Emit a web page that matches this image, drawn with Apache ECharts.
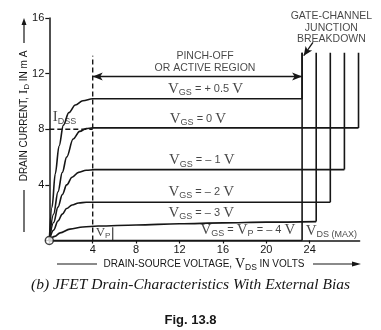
<!DOCTYPE html>
<html>
<head>
<meta charset="utf-8">
<script src="https://cdn.jsdelivr.net/npm/echarts@6/dist/echarts.min.js"></script>
<style>
html,body{margin:0;padding:0;background:#fff;}
#c{width:381px;height:330px;}
</style>
</head>
<body>
<div id="c"></div>
<script>
// ---------- data ----------
const xTicks = [4, 8, 12, 16, 20, 24];
const yTicks = [4, 8, 12, 16];
const vgsLabels = ['+ 0.5', '0', '– 1', '– 2', '– 3', '– 4'];
// drain characteristic curves [VDS, ID]
const curvePlus05 = [[0,0],[0.25,2.4],[0.55,4.8],[0.9,6.8],[1.3,8.3],[1.8,9.2],[2.4,9.75],[3.1,10.05],[4.0,10.2],[23.3,10.2]];
const curve0      = [[0,0],[0.4,1.9],[0.8,3.5],[1.2,4.9],[1.6,6.0],[2.2,7.3],[2.8,7.85],[3.4,8.05],[4.0,8.1],[28.5,8.1]];
const curveM1     = [[0,0],[0.4,1.3],[0.8,2.4],[1.2,3.3],[1.6,4.0],[2.1,4.55],[2.7,4.9],[3.4,5.05],[4.2,5.1],[27.2,5.1]];
const curveM2     = [[0,0],[0.4,0.75],[0.8,1.4],[1.2,1.9],[1.6,2.3],[2.1,2.55],[2.7,2.7],[3.4,2.75],[25.9,2.75]];
const curveM3     = [[0,0],[0.5,0.3],[1.0,0.55],[1.9,0.82],[3.1,0.97],[4.5,1.04],[8,1.12],[12,1.2],[16,1.27],[20,1.32],[24.6,1.36]];
const curveM4     = [[0,0],[23.3,0]];
const curves = [curvePlus05, curve0, curveM1, curveM2, curveM3, curveM4];
const breakdownTop = 13.5;      // top of the breakdown verticals (mA)
const pinchOffV = 4;            // V_P magnitude (dashed vertical)
const pinchDashTop = 13.3;
const idss = 8;
const activeArrowY = 11.8;
const activeArrowEnd = 23.3;
// label anchor positions [VDS, ID]
const vgsLabelPos = [[14.4,10.9],[13.7,8.74],[14.05,5.79],[14.0,3.49],[14.0,1.98],[18.3,0.76]];

// ---------- chart ----------
const ink = '#161616';
const lw = 1.6;
const chart = echarts.init(document.getElementById('c'), null, {renderer:'canvas'});

const rich = {
  v: {fontFamily:'Liberation Serif', fontSize:15, color:ink},
  s: {fontFamily:'Liberation Sans', fontSize:9, color:ink, padding:[8,0,0,0]},
  t: {fontFamily:'Liberation Sans', fontSize:11, color:ink}
};

const series = [];
curves.forEach((c, i) => {
  series.push({type:'line', data:c, smooth:0.35, smoothMonotone:'x', symbol:'none',
    lineStyle:{color:ink, width:lw}, z:3, animation:false});
  const last = c[c.length-1];
  series.push({type:'line', data:[last, [last[0], breakdownTop]], symbol:'none',
    lineStyle:{color:ink, width:lw}, z:3, animation:false});
});
// dashed pinch-off line and IDSS line
series.push({type:'line', data:[[pinchOffV,0],[pinchOffV,pinchDashTop]], symbol:'none',
  lineStyle:{color:ink, width:1.4, type:[5,3]}, animation:false});
series.push({type:'line', data:[[0,idss],[pinchOffV,idss]], symbol:'none',
  lineStyle:{color:ink, width:1.4, type:[5,3]}, animation:false});
// V_P small box sides
series.push({type:'line', data:[[5.85,0],[5.85,0.95]], symbol:'none', lineStyle:{color:ink,width:1}, animation:false});
// arrows
series.push({type:'line', data:[], animation:false,
  markLine:{silent:true, animation:false, symbol:['arrow','arrow'], symbolSize:[6,10],
    label:{show:false}, lineStyle:{color:ink, width:1.3, type:'solid'},
    data:[[{coord:[pinchOffV, activeArrowY]},{coord:[activeArrowEnd, activeArrowY]}]]}});
series.push({type:'line', data:[], animation:false,
  markLine:{silent:true, animation:false, symbol:['none','arrow'], symbolSize:[6,9],
    label:{show:false}, lineStyle:{color:ink, width:1.3, type:'solid'},
    data:[[{coord:[24.3,14.25]},{coord:[23.45,13.3]}]]}});
// origin circle
series.push({type:'scatter', data:[[0,0]], symbol:'circle', symbolSize:8,
  itemStyle:{color:'#fff', borderColor:ink, borderWidth:1.5}, z:10, animation:false});
// labels
const labelData = vgsLabels.map((g, i) => {
  let txt;
  if (i === 5) txt = '{v|V}{s|GS}{t| = }{v|V}{s|P}{t| = – 4 }{v|V}';
  else txt = '{v|V}{s|GS}{t| = ' + g + ' }{v|V}';
  return {value: vgsLabelPos[i], label:{formatter: txt}};
});
labelData.push({value:[14.35,12.85], label:{formatter:'{t|PINCH-OFF}\n{t|OR ACTIVE REGION}', lineHeight:12,
  rich:{t:{fontFamily:'Liberation Sans', fontSize:10.5, color:ink, lineHeight:12}}}});
labelData.push({value:[26.0,15.3], label:{formatter:'{t|GATE-CHANNEL}\n{t|JUNCTION}\n{t|BREAKDOWN}',
  rich:{t:{fontFamily:'Liberation Sans', fontSize:10.5, color:ink, lineHeight:11.5}}}});
labelData.push({value:[1.4,8.85], label:{formatter:'{v|I}{s|DSS}'}});
labelData.push({value:[26.0,0.7], label:{formatter:'{v|V}{s|DS (MAX)}'}});
labelData.push({value:[4.95,0.55], label:{formatter:'{v|V}{s|P}', rich:{v:{fontFamily:'Liberation Serif', fontSize:13, color:ink}, s:{fontFamily:'Liberation Sans', fontSize:8, color:ink, padding:[6,0,0,0]}}}});
series.push({type:'scatter', data:labelData, symbolSize:0, animation:false, z:6,
  label:{show:true, position:'inside', rich:rich, color:ink}});

const option = {
  animation:false,
  backgroundColor:'#fff',
  grid:[
    {left:49.3, top:18.1, width:310.3, height:222.4},
    {left:49.3, top:18.1, width:260.4, height:222.4}
  ],
  xAxis:[
    {gridIndex:0, type:'value', min:0, max:28.6, axisLine:{lineStyle:{color:ink, width:1.5}},
      axisTick:{show:false}, axisLabel:{show:false}, splitLine:{show:false}},
    {gridIndex:1, type:'value', min:0, max:24, interval:4, axisLine:{show:false},
      axisTick:{show:true, length:3, lineStyle:{color:ink, width:1.2}},
      axisLabel:{margin:4, fontSize:11, fontFamily:'Liberation Sans', color:ink,
        formatter:v => xTicks.indexOf(v) >= 0 ? String(v) : ''},
      splitLine:{show:false}}
  ],
  yAxis:[
    {gridIndex:0, type:'value', min:0, max:16, interval:4, axisLine:{show:true, lineStyle:{color:ink, width:1.5}},
      axisTick:{show:true, length:4, lineStyle:{color:ink, width:1.2}},
      axisLabel:{margin:5, fontSize:11, fontFamily:'Liberation Sans', color:ink,
        formatter:v => yTicks.indexOf(v) >= 0 ? String(v) : ''},
      splitLine:{show:false}},
    {gridIndex:1, type:'value', min:0, max:16, show:false}
  ],
  title:[
    {text:'(b) JFET Drain-Characteristics With External Bias', left:'center', top:272,
      textStyle:{fontFamily:'Liberation Serif', fontStyle:'italic', fontWeight:'normal', fontSize:15.5, color:ink}},
    {text:'Fig. 13.8', left:'center', top:309,
      textStyle:{fontFamily:'Liberation Sans', fontWeight:'bold', fontSize:13, color:ink}}
  ],
  graphic:[
    // y-axis name
    {type:'text', x:24, y:116, rotation:Math.PI/2, style:{
      text:'{a|DRAIN CURRENT, }{i|I}{s|D}{a| IN m A}', align:'center', verticalAlign:'middle',
      rich:{a:{fontFamily:'Liberation Sans', fontSize:10, fill:ink},
            i:{fontFamily:'Liberation Serif', fontSize:13, fill:ink},
            s:{fontFamily:'Liberation Sans', fontSize:8, fill:ink, padding:[6,0,0,0]}}}},
    {type:'line', shape:{x1:24, y1:232, x2:24, y2:190}, style:{stroke:ink, lineWidth:1.2}},
    {type:'line', shape:{x1:24, y1:43, x2:24, y2:24}, style:{stroke:ink, lineWidth:1.2}},
    {type:'polygon', shape:{points:[[24,18],[21.5,25],[26.5,25]]}, style:{fill:ink}},
    // x-axis name
    {type:'text', x:204, y:264, style:{
      text:'{a|DRAIN-SOURCE VOLTAGE, }{v|V}{s|DS}{a| IN VOLTS}', align:'center', verticalAlign:'middle',
      rich:{a:{fontFamily:'Liberation Sans', fontSize:10, fill:ink},
            v:{fontFamily:'Liberation Serif', fontSize:14, fill:ink},
            s:{fontFamily:'Liberation Sans', fontSize:8.5, fill:ink, padding:[7,0,0,0]}}}},
    {type:'line', shape:{x1:57, y1:264, x2:97, y2:264}, style:{stroke:ink, lineWidth:1.2}},
    {type:'line', shape:{x1:313, y1:264, x2:354, y2:264}, style:{stroke:ink, lineWidth:1.2}},
    {type:'polygon', shape:{points:[[361,264],[352,261.5],[352,266.5]]}, style:{fill:ink}}
  ],
  series: series.map(s => Object.assign({xAxisIndex:0, yAxisIndex:0}, s))
};
chart.setOption(option);
</script>
</body>
</html>
